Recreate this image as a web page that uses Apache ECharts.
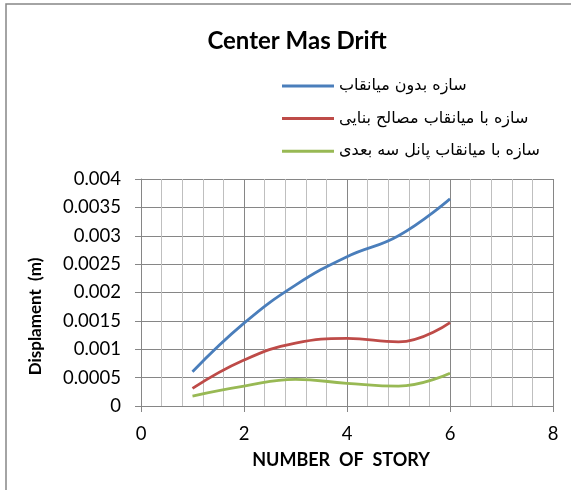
<!DOCTYPE html>
<html>
<head>
<meta charset="utf-8">
<script src="https://cdn.jsdelivr.net/npm/echarts@6/dist/echarts.min.js"></script>
<style>
html,body{margin:0;padding:0;background:#fff;}
#c{width:571px;height:490px;}
</style>
</head>
<body>
<div id="c"></div>
<script>
const stories = [1, 2, 3, 4, 5, 6];
const seriesNames = ['سازه بدون میانقاب', 'سازه با میانقاب مصالح بنایی', 'سازه با میانقاب پانل سه بعدی'];
const noInfill = [0.000605, 0.00146, 0.00213, 0.00263, 0.00300, 0.00365];
const masonryInfill = [0.00031, 0.00081, 0.00111, 0.00119, 0.00113, 0.00147];
const panel3dInfill = [0.000176, 0.00035, 0.00047, 0.00040, 0.00035, 0.000577];
const colors = ['#4a7ebb', '#be4b48', '#98b954'];
const allValues = [noInfill, masonryInfill, panel3dInfill];

const chart = echarts.init(document.getElementById('c'), null, {renderer: 'canvas'});
const font = 'Lato, "DejaVu Sans", sans-serif';
const series = seriesNames.map((name, i) => ({
  name: name,
  type: 'line',
  smooth: 0.45,
  symbol: 'none',
  data: stories.map((s, j) => [s, allValues[i][j]]),
  lineStyle: {color: colors[i], width: 2.8},
  itemStyle: {color: colors[i]}
}));

chart.setOption({
  animation: false,
  backgroundColor: '#fff',
  title: {
    text: 'Center Mas Drift',
    left: 292, top: 24, textAlign: 'center',
    textStyle: {fontFamily: font, fontWeight: 'bold', fontSize: 24, color: '#000'}
  },
  legend: {
    orient: 'vertical',
    left: 277, top: 71,
    icon: 'rect',
    itemWidth: 52, itemHeight: 3,
    itemGap: 12.6,
    textStyle: {fontFamily: '"DejaVu Sans", sans-serif', fontSize: 16, color: '#000', lineHeight: 20},
    data: seriesNames
  },
  grid: {left: 141, right: 18, top: 179, bottom: 84, containLabel: false, outerBoundsMode: 'none'},
  xAxis: {
    type: 'value', min: 0, max: 8, interval: 2,
    name: 'NUMBER  OF  STORY', nameLocation: 'middle', nameGap: 45,
    nameTextStyle: {fontFamily: font, fontWeight: 'bold', fontSize: 18, color: '#000', padding: [0, 12, 0, 0]},
    axisLine: {show: true, lineStyle: {color: '#868686', width: 1}},
    axisTick: {show: true, length: 6, lineStyle: {color: '#868686'}},
    axisLabel: {fontFamily: font, fontSize: 18.5, color: '#000', margin: 19},
    splitLine: {show: true, lineStyle: {color: '#868686', width: 1}},
    minorTick: {show: false, splitNumber: 5},
    minorSplitLine: {show: true, lineStyle: {color: '#bfbfbf', width: 1}}
  },
  yAxis: {
    type: 'value', min: 0, max: 0.004, interval: 0.0005,
    name: 'Displament  (m)', nameLocation: 'middle', nameGap: 97, nameRotate: 90,
    nameTextStyle: {fontFamily: font, fontWeight: 'bold', fontSize: 17, color: '#000', padding: [0, 48, 0, 0]},
    axisLine: {show: true, lineStyle: {color: '#868686', width: 1}},
    axisTick: {show: true, inside: false, length: 6, lineStyle: {color: '#868686'}},
    axisLabel: {fontFamily: font, fontSize: 18.5, color: '#000', margin: 20,
      formatter: v => String(parseFloat(v.toFixed(4)))},
    splitLine: {show: true, lineStyle: {color: '#868686', width: 1}}
  },
  graphic: [{
    type: 'rect', z: -1, silent: true,
    shape: {x: 6, y: 4, width: 800, height: 800},
    style: {fill: null, stroke: '#868686', lineWidth: 1.5}
  }],
  series: series
});
</script>
</body>
</html>
